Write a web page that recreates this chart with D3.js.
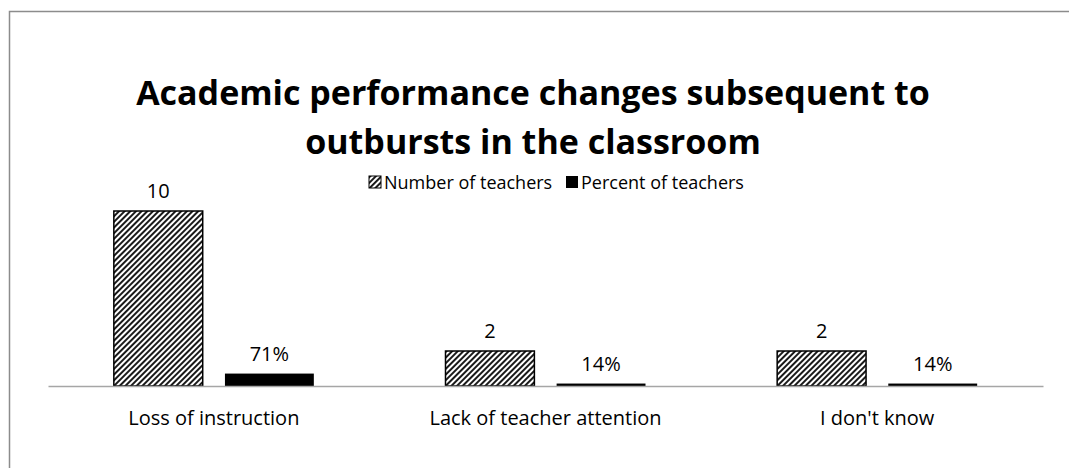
<!DOCTYPE html>
<html>
<head>
<meta charset="utf-8">
<script src="https://cdn.jsdelivr.net/npm/d3@7"></script>
<style>
  body { margin: 0; background: #fff; }
  text { font-family: "Open Sans", "Noto Sans", sans-serif; fill: #000; }
</style>
</head>
<body>
<div class="chart"></div>
<script>
const categories = ["Loss of instruction", "Lack of teacher attention", "I don't know"];
const seriesNames = ["Number of teachers", "Percent of teachers"];
const numberValues = [10, 2, 2];
const percentValues = [0.71, 0.14, 0.14];
const percentLabels = ["71%", "14%", "14%"];

let width = 1069, height = 468;

let svg = d3.select(".chart")
	.append("svg")
	.attr("width", width)
	.attr("height", height);

let defs = svg.append("defs");
let pat = defs.append("pattern")
	.attr("id", "hatch")
	.attr("patternUnits", "userSpaceOnUse")
	.attr("width", 4)
	.attr("height", 4)
	.attr("patternTransform", "rotate(45)");
pat.append("rect").attr("width", 4).attr("height", 4).attr("fill", "#fff");
pat.append("line")
	.attr("x1", 1).attr("y1", 0).attr("x2", 1).attr("y2", 4)
	.attr("stroke", "#000").attr("stroke-width", 1.8);

// chart border
svg.append("rect")
	.attr("x", 9.5).attr("y", 11.5)
	.attr("width", 1100).attr("height", 500)
	.attr("fill", "none").attr("stroke", "#8c8c8c").attr("stroke-width", 1.5);

// title
svg.append("text")
	.attr("x", 533).attr("y", 105)
	.attr("text-anchor", "middle")
	.style("font-weight", "bold").style("font-size", "34px")
	.text("Academic performance changes subsequent to");
svg.append("text")
	.attr("x", 533).attr("y", 154)
	.attr("text-anchor", "middle")
	.style("font-weight", "bold").style("font-size", "34px")
	.text("outbursts in the classroom");

let x0 = d3.scaleBand().domain(categories).range([48, 1043]);
let x1 = d3.scaleBand().domain(seriesNames).range([0, 200]).paddingInner(0.2);
let y = d3.scaleLinear().domain([0, 12]).range([386, 176]);

let rows = categories.map((c, i) => ({
	cat: c,
	vals: [
		{s: seriesNames[0], v: numberValues[i], label: String(numberValues[i])},
		{s: seriesNames[1], v: percentValues[i], label: percentLabels[i]}
	]
}));

let groups = svg.selectAll(".grp")
	.data(rows)
	.enter().append("g")
	.attr("class", "grp")
	.attr("transform", d => "translate(" + (x0(d.cat) + (x0.bandwidth() - 200) / 2) + ",0)");

groups.selectAll("rect")
	.data(d => d.vals)
	.enter().append("rect")
	.attr("x", d => x1(d.s))
	.attr("y", d => y(d.v))
	.attr("width", x1.bandwidth())
	.attr("height", d => y(0) - y(d.v))
	.attr("fill", d => d.s === seriesNames[0] ? "url(#hatch)" : "#000")
	.attr("stroke", d => d.s === seriesNames[0] ? "#000" : "none")
	.attr("stroke-width", 1.5);

groups.selectAll(".lbl")
	.data(d => d.vals)
	.enter().append("text")
	.attr("class", "lbl")
	.attr("x", d => x1(d.s) + x1.bandwidth() / 2)
	.attr("y", d => y(d.v) - 13)
	.attr("text-anchor", "middle")
	.style("font-size", "20px")
	.text(d => d.label);

// baseline axis
let xAxis = d3.axisBottom(x0).tickSize(0).tickPadding(25);
let ax = svg.append("g")
	.attr("transform", "translate(0," + y(0) + ")")
	.call(xAxis);
ax.select(".domain").attr("stroke", "#a6a6a6").attr("stroke-width", 1.5);
ax.selectAll("text")
	.style("font-family", "'Open Sans', sans-serif")
	.style("font-size", "20px").attr("fill", "#000");

// legend
let legend = svg.append("g").attr("transform", "translate(369,176)");
let lx = [0, 197];
seriesNames.forEach((s, i) => {
	let g = legend.append("g").attr("transform", "translate(" + lx[i] + ",0)");
	g.append("rect")
		.attr("width", 12).attr("height", 12)
		.attr("fill", i === 0 ? "url(#hatch)" : "#000")
		.attr("stroke", i === 0 ? "#000" : "none")
		.attr("stroke-width", 1);
	g.append("text")
		.attr("x", 15).attr("y", 13)
		.style("font-size", "18px")
		.text(s);
});
</script>
</body>
</html>
